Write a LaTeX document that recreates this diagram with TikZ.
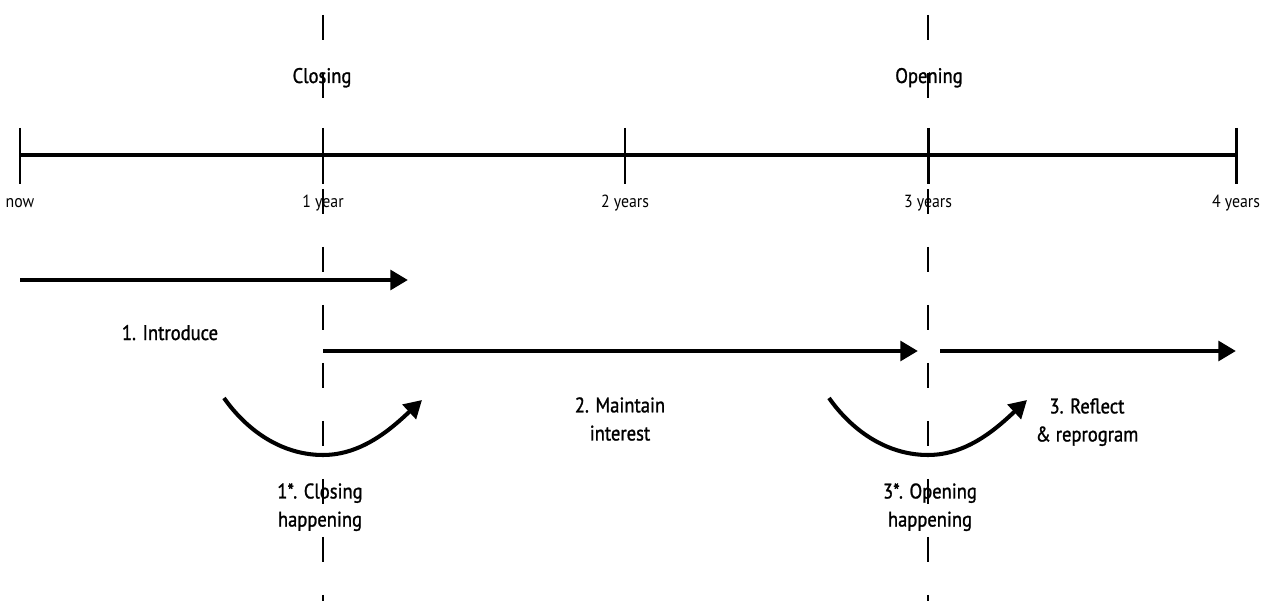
\documentclass[tikz,border=0pt]{standalone}
\usepackage{fontspec}
\setmainfont[FakeStretch=0.9]{PT Sans}
\newfontfamily\phasefont[FakeStretch=0.88, FakeBold=1.2]{PT Sans}
\usetikzlibrary{arrows.meta}
\tikzset{
    every node/.style={inner sep=0pt},
    ticklabel/.style={anchor=base, font=\fontsize{10}{12}\selectfont},
    phaselabel/.style={align=center, anchor=north,
        font=\phasefont\fontsize{12}{16}\selectfont},
    eventlabel/.style={anchor=base, font=\phasefont\fontsize{12}{16}\selectfont},
    milestone/.style={line width=1.5pt, dash pattern=on 0.5cm off 0.66cm,
        dash phase=0.86cm},
    phasearrow/.style={line width=2.8pt, -{Triangle[length=10pt, width=11pt]}},
    swingarrow/.style={line width=2.3pt, -{Triangle[length=10pt, width=11pt]}},
}

\begin{document}
\begin{tikzpicture}[x=0.02cm, y=-0.02cm]
        \useasboundingbox (0,0) rectangle (1272,601);
        \coordinate (linestart) at (20,155);
        \coordinate (lineend) at (1236,155);
        \draw[line width=2pt] (linestart) -- (lineend); % Time line
        \foreach \x/\name/\txt in {20/now/now, 323/one/1 year, 625/two/2 years,
            928/three/3 years, 1236/four/4 years}{
            \draw[line width=1.7pt] (\x,128) -- (\x,184); % Tick
            \node[ticklabel] (\name) at (\x,208) {\txt}; % Tick label
        }
        \node[eventlabel] (closing) at (322,83) {Closing}; % Closing event
        \node[eventlabel] (opening) at (929,83) {Opening}; % Opening event

        % Phases
        \coordinate (introstart) at (20,280);
        \coordinate (introend) at (408,280);
        \coordinate (maintstart) at (323,351);
        \coordinate (maintend) at (918,351);
        \coordinate (reflstart) at (940,351);
        \coordinate (reflend) at (1236,351);
        \draw[phasearrow] (introstart) -- (introend);
        \draw[phasearrow] (maintstart) -- (maintend);
        \draw[phasearrow] (reflstart) -- (reflend);
        \node[eventlabel] (introduce) at (170,340) {1. Introduce};
        \node[phaselabel] (maintain) at (620,397) {2. Maintain\\interest};
        \node[phaselabel] (reflect) at (1087,398) {3. Reflect\\\& reprogram};

        % Happenings
        \foreach \x/\name in {323/closeswing, 928/openswing}{
            \coordinate (\name start) at (\x-99,398);
            \coordinate (\name low) at (\x,455);
            \coordinate (\name end) at (\x+99,400);
            \draw[swingarrow] (\name start) .. controls (\x-75,432) and
                (\x-40,455) .. (\name low) .. controls (\x+40,455) and
                (\x+70,427) .. (\name end);
        }
        \node[phaselabel] (closehap) at (320,483) {1*. Closing\\happening};
        \node[phaselabel] (openhap) at (930,483) {3*. Opening\\happening};

        % Milestones over everything
        \coordinate (closetop) at (323,0);
        \coordinate (closebottom) at (323,601);
        \coordinate (opentop) at (928,0);
        \coordinate (openbottom) at (928,601);
        \draw[milestone] (closetop) -- (closebottom);
        \draw[milestone] (opentop) -- (openbottom);
    \end{tikzpicture}
\end{document}
